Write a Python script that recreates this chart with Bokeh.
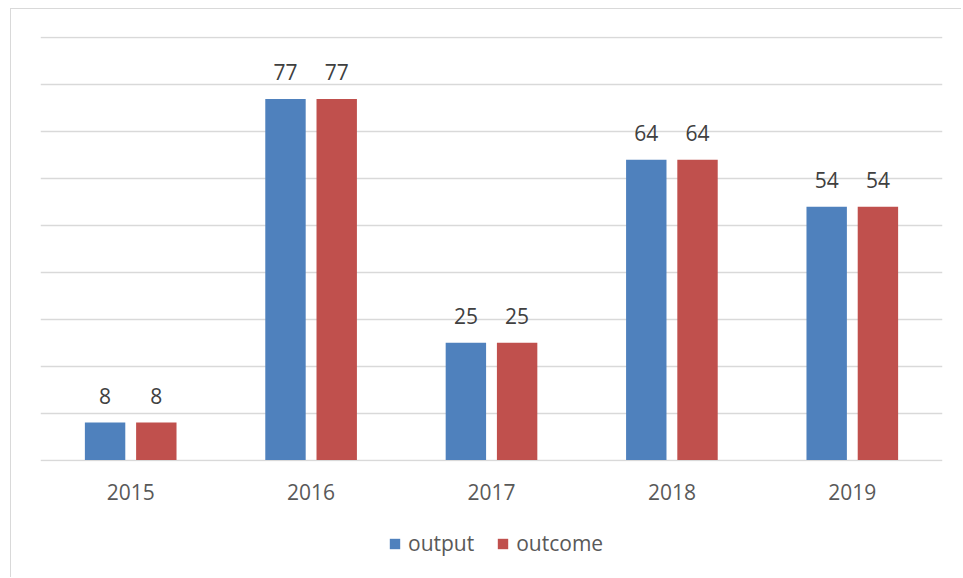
from bokeh.plotting import figure
from bokeh.layouts import column
from bokeh.models import ColumnDataSource, FactorRange, Range1d, Legend, LegendItem, FixedTicker
from bokeh.transform import dodge
from bokeh.embed import file_html
from bokeh.resources import INLINE

years = ["2015", "2016", "2017", "2018", "2019"]
output_vals = [8, 77, 25, 64, 54]
outcome_vals = [8, 77, 25, 64, 54]
series_names = ["output", "outcome"]
grid_ticks = [0, 10, 20, 30, 40, 50, 60, 70, 80, 90]

BLUE = "#4F81BD"
RED = "#C0504D"
FONT = "Open Sans"
FS = "21px"

src = ColumnDataSource(dict(
    years=years,
    output=output_vals,
    outcome=outcome_vals,
    output_lbl=[str(v) for v in output_vals],
    outcome_lbl=[str(v) for v in outcome_vals],
))

p = figure(frame_width=902, frame_height=425, output_backend="svg", toolbar_location=None,
           x_range=FactorRange(*years, range_padding=0), y_range=Range1d(-0.3, 90.3),
           min_border_left=29, min_border_right=19, min_border_top=27, min_border_bottom=56)
p.outline_line_color = None
p.background_fill_color = "white"
p.border_fill_color = "white"

p.vbar(x=dodge("years", -0.142, range=p.x_range), top="output", bottom=0, width=0.224,
       source=src, fill_color=BLUE, line_color=None)
p.vbar(x=dodge("years", 0.142, range=p.x_range), top="outcome", bottom=0, width=0.224,
       source=src, fill_color=RED, line_color=None)

p.text(x=dodge("years", -0.142, range=p.x_range), y="output", text="output_lbl", source=src,
       text_align="center", text_baseline="alphabetic", y_offset=-27,
       text_font_size=FS, text_color="#404040", text_font={"value": FONT})
p.text(x=dodge("years", 0.142, range=p.x_range), y="outcome", text="outcome_lbl", source=src,
       text_align="center", text_baseline="alphabetic", y_offset=-27,
       text_font_size=FS, text_color="#404040", text_font={"value": FONT})

p.yaxis.visible = False
p.ygrid.ticker = FixedTicker(ticks=grid_ticks)
p.ygrid.grid_line_color = "#d9d9d9"
p.ygrid.grid_line_width = 1.5
p.ygrid.level = "underlay"
p.xgrid.visible = False

ax = p.xaxis[0]
ax.axis_line_color = None
ax.major_tick_line_color = None
ax.minor_tick_line_color = None
ax.major_label_standoff = 16
ax.major_label_text_font = FONT
ax.major_label_text_font_size = FS
ax.major_label_text_color = "#595959"

# legend strip below the chart (key glyphs use a zero-height dummy bar)
lg = figure(width=950, height=60, output_backend="svg", toolbar_location=None,
            x_range=Range1d(0, 1), y_range=Range1d(0, 1),
            min_border_left=0, min_border_right=0, min_border_top=0, min_border_bottom=0)
lg.axis.visible = False
lg.grid.visible = False
lg.outline_line_color = None
lg.background_fill_color = "white"
lg.border_fill_color = "white"
dummy = ColumnDataSource(dict(x=[0.5], top=[0], bottom=[0]))
k1 = lg.vbar(x="x", top="top", bottom="bottom", width=0.001, source=dummy,
             fill_color=BLUE, line_color=None)
k2 = lg.vbar(x="x", top="top", bottom="bottom", width=0.001, source=dummy,
             fill_color=RED, line_color=None)

legend = Legend(items=[LegendItem(label=series_names[0], renderers=[k1]),
                       LegendItem(label=series_names[1], renderers=[k2])],
                orientation="horizontal", location=(348, 20),
                glyph_width=13, glyph_height=13, spacing=22, label_standoff=7,
                label_text_font=FONT, label_text_font_size=FS,
                label_text_color="#595959", border_line_color=None,
                background_fill_alpha=0, padding=0, margin=0)
lg.add_layout(legend, "center")

layout = column(p, lg, spacing=0)
layout.styles = {"margin-left": "10px", "margin-top": "8px",
                 "border-left": "1px solid #d9d9d9", "border-top": "1px solid #d9d9d9"}

open("out.html", "w").write(file_html(layout, INLINE))
